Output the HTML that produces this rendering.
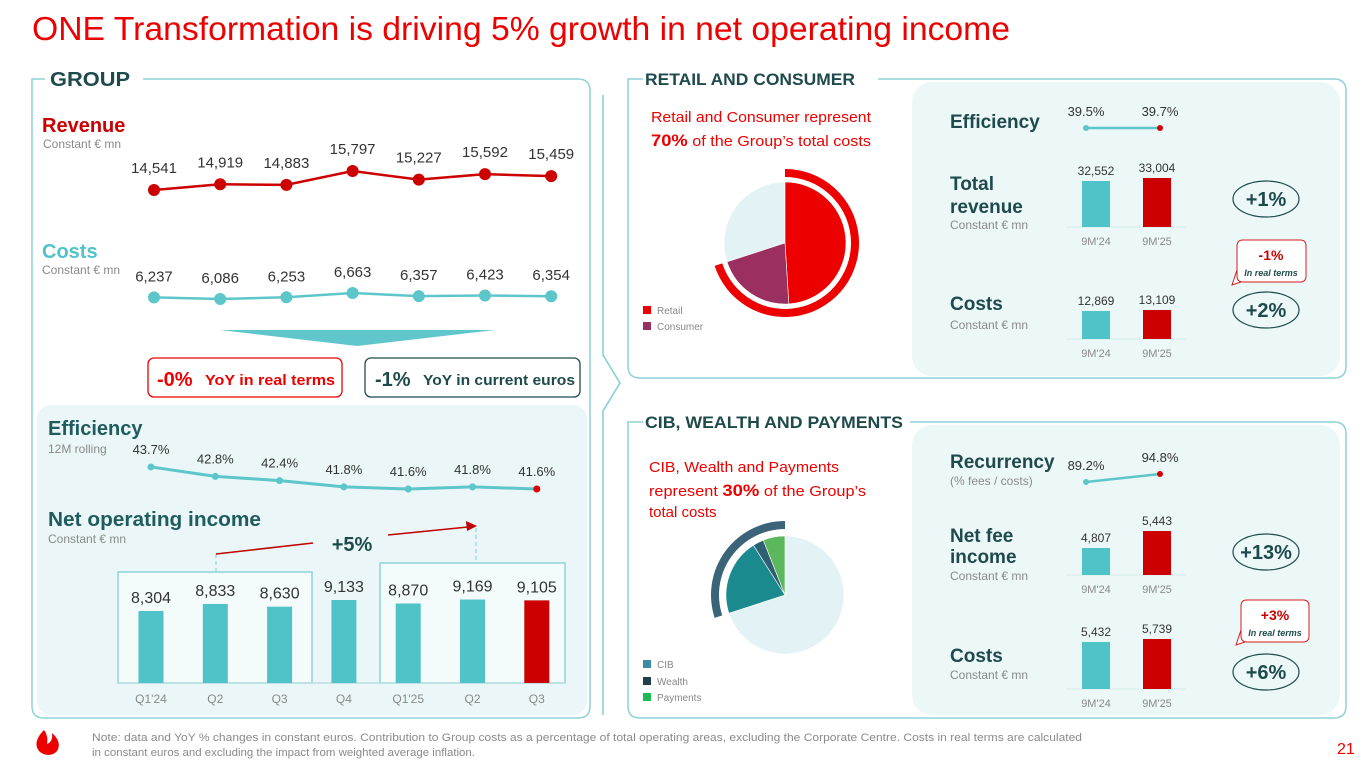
<!DOCTYPE html>
<html><head><meta charset="utf-8"><style>
html,body{margin:0;padding:0;background:#fff}
svg{display:block;font-family:"Liberation Sans",sans-serif}
</style></head><body>
<svg id="slide" width="1365" height="768" viewBox="0 0 1365 768" xmlns="http://www.w3.org/2000/svg">
<text x="32" y="40" font-size="33" fill="#ec0000" textLength="978" lengthAdjust="spacingAndGlyphs">ONE Transformation is driving 5% growth in net operating income</text>

<!-- GROUP frame -->
<path d="M45,79 H32 V706 Q32,718 44,718 H578 Q590,718 590,706 V91 Q590,79 578,79 H143" fill="none" stroke="#8fd3d6" stroke-width="1.5"/>
<text x="50" y="86" font-size="20" font-weight="bold" fill="#1f4a4c" textLength="80" lengthAdjust="spacingAndGlyphs">GROUP</text>
<rect x="37" y="405" width="550" height="310" rx="14" fill="#eaf6f7"/>

<text x="42" y="132" font-size="20" font-weight="bold" fill="#cc0000">Revenue</text>
<text x="43" y="148" font-size="12" fill="#8a8a8a">Constant € mn</text>
<text x="42" y="258" font-size="20" font-weight="bold" fill="#4fc3c8">Costs</text>
<text x="42" y="274" font-size="12" fill="#8a8a8a">Constant € mn</text>

<polygon points="220,330 495,330 357,346" fill="#5fc7cc"/>
<rect x="148" y="358" width="194" height="39" rx="6" fill="#fff" stroke="#ec0000" stroke-width="1.3"/>
<text x="157" y="386" font-size="20" font-weight="bold" fill="#ec0000">-0%</text>
<text x="205" y="385" font-size="15" font-weight="bold" fill="#ec0000" textLength="130" lengthAdjust="spacingAndGlyphs">YoY in real terms</text>
<rect x="365" y="358" width="215" height="39" rx="6" fill="#fff" stroke="#1f4a4c" stroke-width="1.3"/>
<text x="375" y="386" font-size="20" font-weight="bold" fill="#1f4a4c">-1%</text>
<text x="423" y="385" font-size="15" font-weight="bold" fill="#1f4a4c" textLength="152" lengthAdjust="spacingAndGlyphs">YoY in current euros</text>

<text x="48" y="435" font-size="20" font-weight="bold" fill="#1f5c5e">Efficiency</text>
<text x="48" y="453" font-size="12" fill="#8a8a8a">12M rolling</text>
<text x="48" y="526" font-size="20" font-weight="bold" fill="#1f5c5e" textLength="213" lengthAdjust="spacingAndGlyphs">Net operating income</text>
<text x="48" y="543" font-size="12" fill="#8a8a8a">Constant € mn</text>
<rect x="118" y="572" width="194" height="111" fill="#f4fbfb" stroke="#7fcfd3" stroke-width="1.3"/>
<rect x="380" y="563" width="185" height="120" fill="#f4fbfb" stroke="#7fcfd3" stroke-width="1.3"/>
<g id="leftcharts"></g>
<line x1="216" y1="554" x2="216" y2="572" stroke="#7fcfd3" stroke-dasharray="4,3"/>
<line x1="476" y1="528" x2="476" y2="563" stroke="#7fcfd3" stroke-dasharray="4,3"/>
<line x1="216" y1="554" x2="313" y2="543" stroke="#c00000" stroke-width="1.5"/>
<line x1="388" y1="535" x2="468" y2="527" stroke="#c00000" stroke-width="1.5"/>
<polygon points="477,526 466,521 467,531" fill="#c00000"/>
<text x="352" y="551" font-size="20" font-weight="bold" fill="#1f4a4c" text-anchor="middle">+5%</text>

<!-- divider chevron -->
<path d="M603,95 V355 L620,383 L603,411 V715" fill="none" stroke="#7fcfd3" stroke-width="1.5"/>

<!-- RETAIL frame -->
<path d="M643,79 H628 V366 Q628,378 640,378 H1334 Q1346,378 1346,366 V91 Q1346,79 1334,79 H878" fill="none" stroke="#8fd3d6" stroke-width="1.5"/>
<text x="645" y="85" font-size="17" font-weight="bold" fill="#1f4a4c" textLength="210" lengthAdjust="spacingAndGlyphs">RETAIL AND CONSUMER</text>
<rect x="912" y="82" width="428" height="294" rx="20" fill="#ecf7f8"/>
<text x="651" y="122" font-size="15" fill="#ec0000" textLength="220" lengthAdjust="spacingAndGlyphs">Retail and Consumer represent</text>
<text x="651" y="146" font-size="15" fill="#ec0000" textLength="220" lengthAdjust="spacingAndGlyphs"><tspan font-weight="bold" font-size="17">70%</tspan> of the Group’s total costs</text>
<rect x="643" y="306" width="8" height="8" fill="#ec0000"/>
<text x="657" y="314" font-size="10" fill="#888">Retail</text>
<rect x="643" y="322" width="8" height="8" fill="#9b2f5f"/>
<text x="657" y="330" font-size="10" fill="#888">Consumer</text>

<text x="950" y="128" font-size="19" font-weight="bold" fill="#1f4a4c">Efficiency</text>
<text x="950" y="190" font-size="19" font-weight="bold" fill="#1f4a4c">Total</text>
<text x="950" y="213" font-size="19" font-weight="bold" fill="#1f4a4c">revenue</text>
<text x="950" y="229" font-size="12" fill="#8a8a8a">Constant € mn</text>
<text x="950" y="310" font-size="19" font-weight="bold" fill="#1f4a4c">Costs</text>
<text x="950" y="329" font-size="12" fill="#8a8a8a">Constant € mn</text>
<ellipse cx="1266" cy="199" rx="33" ry="18" fill="none" stroke="#1f4a4c" stroke-width="1.2"/>
<text x="1266" y="206" font-size="20" font-weight="bold" fill="#1f4a4c" text-anchor="middle">+1%</text>
<ellipse cx="1266" cy="310" rx="33" ry="18" fill="none" stroke="#1f4a4c" stroke-width="1.2"/>
<text x="1266" y="317" font-size="20" font-weight="bold" fill="#1f4a4c" text-anchor="middle">+2%</text>
<path d="M1243,240 H1300 Q1306,240 1306,246 V276 Q1306,282 1300,282 H1243 Q1237,282 1237,276 V246 Q1237,240 1243,240 Z M1237,270 L1232,285 L1241,282" fill="#fff" stroke="#d81e1e" stroke-width="1"/>
<text x="1271" y="260" font-size="14" font-weight="bold" fill="#cc0000" text-anchor="middle">-1%</text>
<text x="1271" y="276" font-size="9" font-style="italic" font-weight="bold" fill="#1f4a4c" text-anchor="middle">In real terms</text>

<!-- CIB frame -->
<path d="M643,422 H628 V706 Q628,718 640,718 H1334 Q1346,718 1346,706 V434 Q1346,422 1334,422 H910" fill="none" stroke="#8fd3d6" stroke-width="1.5"/>
<text x="645" y="428" font-size="17" font-weight="bold" fill="#1f4a4c" textLength="258" lengthAdjust="spacingAndGlyphs">CIB, WEALTH AND PAYMENTS</text>
<rect x="912" y="425" width="428" height="290" rx="20" fill="#ecf7f8"/>
<text x="649" y="472" font-size="15" fill="#ec0000" textLength="190" lengthAdjust="spacingAndGlyphs">CIB, Wealth and Payments</text>
<text x="649" y="496" font-size="15" fill="#ec0000" textLength="217" lengthAdjust="spacingAndGlyphs">represent <tspan font-weight="bold" font-size="17">30%</tspan> of the Group’s</text>
<text x="649" y="517" font-size="15" fill="#ec0000">total costs</text>
<rect x="643" y="660" width="8" height="8" fill="#3d8aa8"/>
<text x="657" y="668" font-size="10" fill="#888">CIB</text>
<rect x="643" y="677" width="8" height="8" fill="#1f3f4a"/>
<text x="657" y="685" font-size="10" fill="#888">Wealth</text>
<rect x="643" y="693" width="8" height="8" fill="#1db954"/>
<text x="657" y="701" font-size="10" fill="#888">Payments</text>

<text x="950" y="468" font-size="19" font-weight="bold" fill="#1f4a4c">Recurrency</text>
<text x="950" y="485" font-size="12" fill="#8a8a8a">(% fees / costs)</text>
<text x="950" y="542" font-size="19" font-weight="bold" fill="#1f4a4c">Net fee</text>
<text x="950" y="563" font-size="19" font-weight="bold" fill="#1f4a4c">income</text>
<text x="950" y="580" font-size="12" fill="#8a8a8a">Constant € mn</text>
<text x="950" y="662" font-size="19" font-weight="bold" fill="#1f4a4c">Costs</text>
<text x="950" y="679" font-size="12" fill="#8a8a8a">Constant € mn</text>
<ellipse cx="1266" cy="552" rx="33" ry="18" fill="none" stroke="#1f4a4c" stroke-width="1.2"/>
<text x="1266" y="559" font-size="20" font-weight="bold" fill="#1f4a4c" text-anchor="middle">+13%</text>
<ellipse cx="1266" cy="672" rx="33" ry="18" fill="none" stroke="#1f4a4c" stroke-width="1.2"/>
<text x="1266" y="679" font-size="20" font-weight="bold" fill="#1f4a4c" text-anchor="middle">+6%</text>
<path d="M1247,600 H1303 Q1309,600 1309,606 V636 Q1309,642 1303,642 H1247 Q1241,642 1241,636 V606 Q1241,600 1247,600 Z M1241,630 L1236,645 L1245,642" fill="#fff" stroke="#d81e1e" stroke-width="1"/>
<text x="1275" y="620" font-size="14" font-weight="bold" fill="#cc0000" text-anchor="middle">+3%</text>
<text x="1275" y="636" font-size="9" font-style="italic" font-weight="bold" fill="#1f4a4c" text-anchor="middle">In real terms</text>

<g id="rightcharts"></g>

<!-- footer -->
<path d="M44,730 C36,738 34,746 40,752 C45,756 53,756 57,751 C61,745 58,738 52,733 C53,740 50,743 47,744 C48,739 47,734 44,730 Z" fill="#ec0000"/>
<text x="92" y="741" font-size="11" fill="#8a8a8a" textLength="990" lengthAdjust="spacingAndGlyphs">Note: data and YoY % changes in constant euros. Contribution to Group costs as a percentage of total operating areas, excluding the Corporate Centre. Costs in real terms are calculated</text>
<text x="92" y="756" font-size="11" fill="#8a8a8a" textLength="383" lengthAdjust="spacingAndGlyphs">in constant euros and excluding the impact from weighted average inflation.</text>
<text x="1337" y="754" font-size="16" fill="#ec0000">21</text>

<script>
const quarters = ["Q1'24","Q2","Q3","Q4","Q1'25","Q2","Q3"];
const revenue = [14541,14919,14883,15797,15227,15592,15459];
const costs = [6237,6086,6253,6663,6357,6423,6354];
const efficiency = [43.7,42.8,42.4,41.8,41.6,41.8,41.6];
const noi = [8304,8833,8630,9133,8870,9169,9105];
const rcEfficiency = [39.5,39.7];
const rcRevenue = [32552,33004];
const rcCosts = [12869,13109];
const cibRecurrency = [89.2,94.8];
const cibFees = [4807,5443];
const cibCosts = [5432,5739];
const periods = ["9M'24","9M'25"];
const retailShares = [49,21];
const cibShares = [21,3,6];

const NS='http://www.w3.org/2000/svg';
function mk(parent, tag, attrs, txt){const e=document.createElementNS(NS,tag);for(const k in attrs)e.setAttribute(k,attrs[k]);if(txt!==undefined)e.textContent=txt;parent.appendChild(e);return e;}
const L=document.getElementById('leftcharts');
const R=document.getElementById('rightcharts');
const fmt=v=>v.toLocaleString('en-US');

const xTop=i=>154+i*66.2;
const yRev=v=>190-(v-14541)*0.0151;
const yCost=v=>299-(v-6086)*0.0104;
const xBot=i=>151+i*64.3;
const yEff=v=>489-(v-41.6)*10.5;
const yNoi=v=>683-(v-2878)*0.01327;

function lineSeries(vals,xf,yf,color,w,r,labelOff,fs,name,labeler,lastColor){
  const pts=vals.map((v,i)=>xf(i)+','+yf(v)).join(' ');
  const pl=mk(L,'polyline',{points:pts,fill:'none',stroke:color,'stroke-width':w});
  
  
  vals.forEach((v,i)=>{
    const c=mk(L,'circle',{cx:xf(i),cy:yf(v),r:r,fill:(lastColor&&i===vals.length-1)?lastColor:color});
    
    
    const t=mk(L,'text',{x:xf(i),y:yf(v)-labelOff,'font-size':fs,fill:'#333','text-anchor':'middle'},labeler(v));
    
    
  });
}
lineSeries(revenue,xTop,yRev,'#cc0000',2.5,6,17,15,'revenue',fmt);
lineSeries(costs,xTop,yCost,'#5cc6cb',2.5,6,16,15,'costs',fmt);
lineSeries(efficiency,xBot,yEff,'#5cc6cb',3,3.5,13,13,'efficiency',v=>v.toFixed(1)+'%','#e00000');

const base=mk(L,'line',{x1:118,y1:683,x2:565,y2:683,stroke:'#b9dfe1','stroke-width':1.5});


noi.forEach((v,i)=>{
  const b=mk(L,'rect',{x:xBot(i)-12.5,y:yNoi(v),width:25,height:683-yNoi(v),fill:i===noi.length-1?'#cc0000':'#4fc3c8'});
  
  
  const t=mk(L,'text',{x:xBot(i),y:yNoi(v)-8,'font-size':16,fill:'#333','text-anchor':'middle'},fmt(v));
  
  
  const q=mk(L,'text',{x:xBot(i),y:703,'font-size':12,fill:'#8a8a8a','text-anchor':'middle'},quarters[i]);
  
  
});

// right mini charts
const xR=i=>1096+i*61;
function miniLine(vals,y0,yScale,name){
  const ys=vals.map(v=>y0-(v-vals[0])*yScale);
  const l=mk(R,'line',{x1:xR(0)-10,y1:ys[0],x2:xR(1)+3,y2:ys[1],stroke:'#5cc6cb','stroke-width':2.5});
  
  
  vals.forEach((v,i)=>{
    const c=mk(R,'circle',{cx:i?xR(1)+3:xR(0)-10,cy:ys[i],r:3,fill:i?'#d40000':'#5cc6cb'});
    
    
    const t=mk(R,'text',{x:i?xR(1)+3:xR(0)-10,y:ys[i]-12,'font-size':13,fill:'#333','text-anchor':'middle'},v.toFixed(1)+'%');
    
    
  });
}
miniLine(rcEfficiency,128,0,'rc-efficiency');
miniLine(cibRecurrency,482,1.43,'cib-recurrency');

function miniBars(vals,baseY,k,v0,name){
  const bl=mk(R,'line',{x1:1066,y1:baseY,x2:1186,y2:baseY,stroke:'#d6ecee','stroke-width':1});
  
  
  vals.forEach((v,i)=>{
    const h=(v-v0)*k;
    const b=mk(R,'rect',{x:xR(i)-14,y:baseY-h,width:28,height:h,fill:i?'#cc0000':'#4fc3c8'});
    
    
    const t=mk(R,'text',{x:xR(i),y:baseY-h-6,'font-size':12,fill:'#333','text-anchor':'middle'},fmt(v));
    
    
    const p=mk(R,'text',{x:xR(i),y:baseY+18,'font-size':11,fill:'#8a8a8a','text-anchor':'middle'},periods[i]);
    
    
  });
}
miniBars(rcRevenue,227,0.00664,25624,'rc-revenue');
miniBars(rcCosts,339,0.0042,6200,'rc-costs');
miniBars(cibFees,575,0.0267,3796,'cib-fees');
miniBars(cibCosts,689,0.00977,620,'cib-costs');

// pies
function pt(cx,cy,r,a){const t=a*Math.PI/180;return [cx+r*Math.sin(t),cy-r*Math.cos(t)];}
function wedge(cx,cy,r,a0,a1,color,name){
  const p0=pt(cx,cy,r,a0),p1=pt(cx,cy,r,a1);
  const d=`M${cx},${cy} L${p0[0]},${p0[1]} A${r},${r} 0 ${a1-a0>180?1:0} 1 ${p1[0]},${p1[1]} Z`;
  const e=mk(R,'path',{d:d,fill:color,stroke:'#fff','stroke-width':0.6});
  
  
}
function ring(cx,cy,r0,r1,a0,a1,color,name){
  const a=pt(cx,cy,r1,a0),b=pt(cx,cy,r1,a1),c=pt(cx,cy,r0,a1),d0=pt(cx,cy,r0,a0);
  const lg=a1-a0>180?1:0;
  const d=`M${a[0]},${a[1]} A${r1},${r1} 0 ${lg} 1 ${b[0]},${b[1]} L${c[0]},${c[1]} A${r0},${r0} 0 ${lg} 0 ${d0[0]},${d0[1]} Z`;
  const e=mk(R,'path',{d:d,fill:color});
  
  
}
// retail pie
{
  const cx=785,cy=243,r=61;
  const a1=retailShares[0]*3.6, a2=a1+retailShares[1]*3.6;
  wedge(cx,cy,r,a2,360,'#e3f3f5','retail-pie-rest');
  wedge(cx,cy,r,0,a1,'#ec0000','retail-pie-retail');
  wedge(cx,cy,r,a1,a2,'#9b2f5f','retail-pie-consumer');
  ring(cx,cy,66,74,0,a2,'#ec0000','retail-share-ring');
}
// cib pie
{
  const cx=785,cy=595,r=59;
  const total=cibShares.reduce((a,b)=>a+b,0);
  const start=360-total*3.6;
  wedge(cx,cy,r,0,start,'#e3f3f5','cib-pie-rest');
  const cols=['#1b8a8f','#2f5f73','#5cb85c'];
  const names=['cib-pie-cib','cib-pie-wealth','cib-pie-payments'];
  let a=start;
  cibShares.forEach((s,i)=>{wedge(cx,cy,r,a,a+s*3.6,cols[i],names[i]);a+=s*3.6;});
  ring(cx,cy,66,74,start,360,'#3b6478','cib-share-ring');
}
</script>
</svg>
</body></html>
